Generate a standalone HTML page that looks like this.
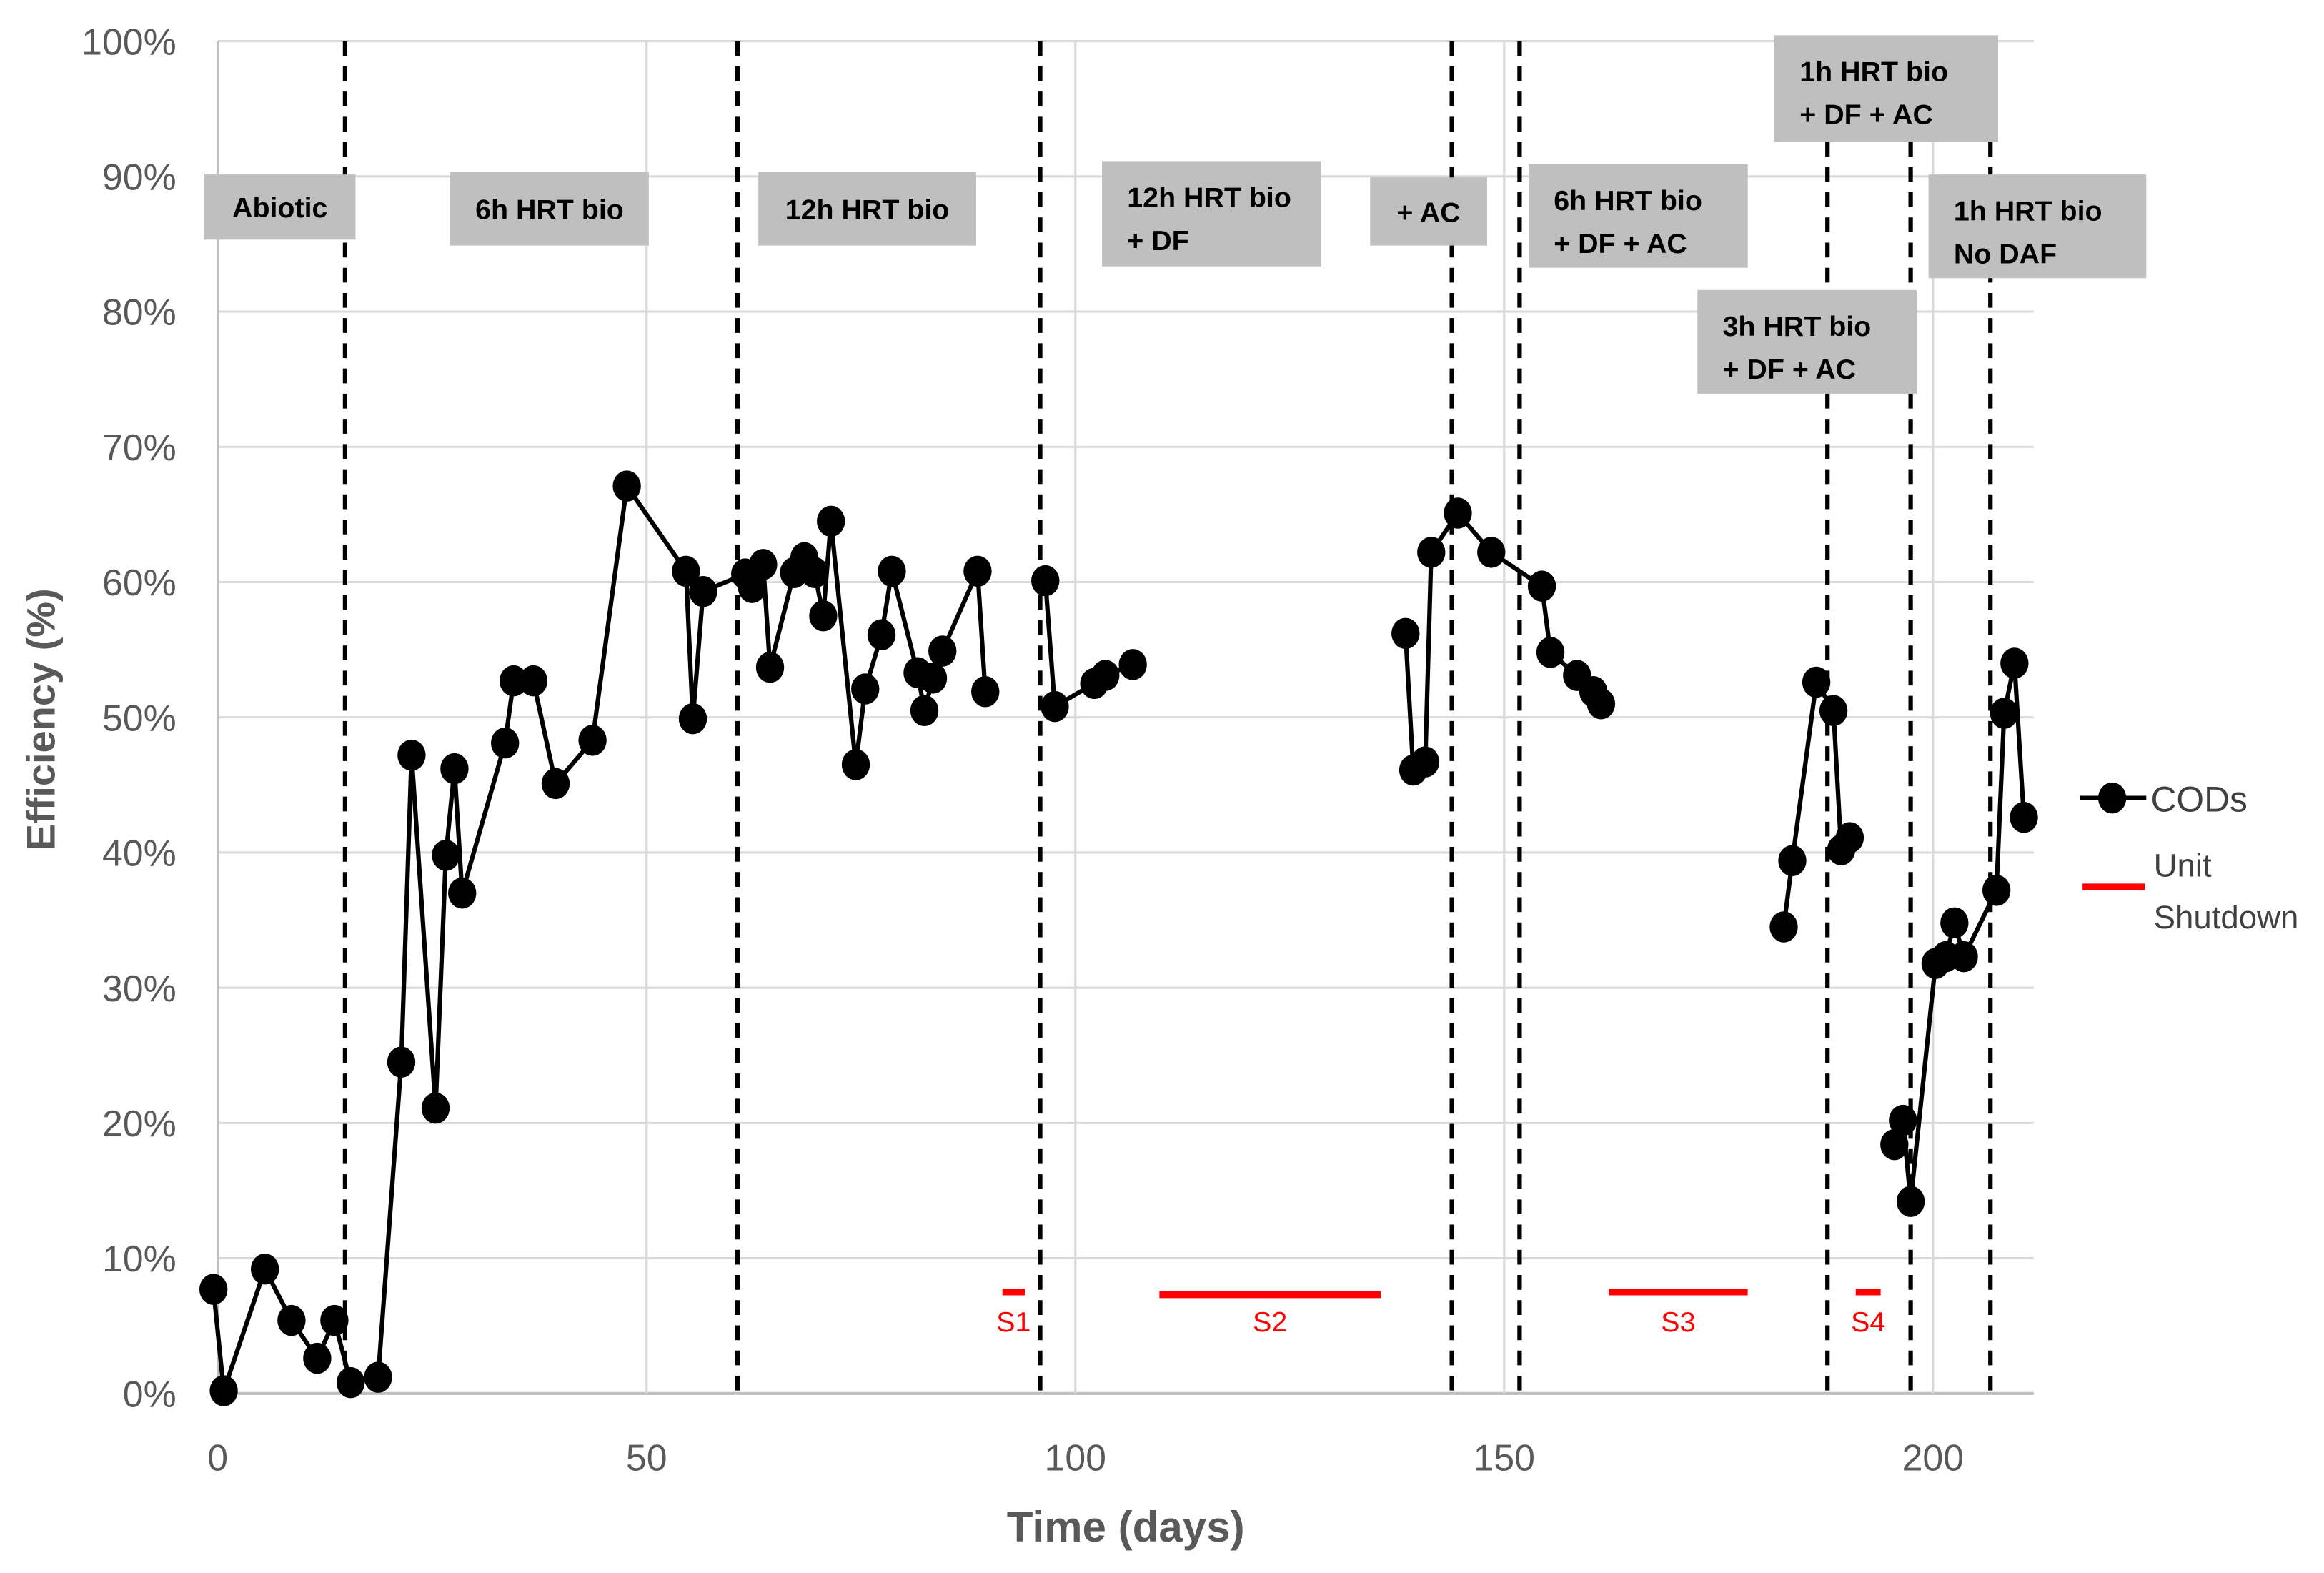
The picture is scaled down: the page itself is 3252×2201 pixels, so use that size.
<!DOCTYPE html>
<html><head><meta charset="utf-8"><style>
html,body{margin:0;padding:0;background:#fff;}
svg{display:block;}
text{font-family:"Liberation Sans",sans-serif;}
</style></head><body>
<svg id="chart" width="3252" height="2201" viewBox="1 -0.8 1569 1062" preserveAspectRatio="none" xmlns="http://www.w3.org/2000/svg"></svg>
<script>
const yTicks=[0,10,20,30,40,50,60,70,80,90,100];
const xTicks=[0,50,100,150,200];
const phaseDays=[14.85,60.6,95.9,143.9,151.8,187.7,197.4,206.7];
const segA_days=[-0.5,0.7,5.5,8.6,11.6,13.6,15.5,18.7,21.4,22.6,25.4,26.6,27.6,28.5,33.5,34.5,36.8,39.4,43.7,47.7,54.6,55.4,56.6,61.5,62.3,63.6,64.4,67.2,68.4,69.6,70.6,71.5,74.4,75.5,77.4,78.6,81.6,82.4,83.4,84.5,88.6,89.5];
const segA_vals=[7.7,0.2,9.2,5.4,2.6,5.4,0.8,1.2,24.5,47.2,21.1,39.8,46.2,37.0,48.1,52.7,52.7,45.1,48.3,67.1,60.8,49.9,59.3,60.6,59.6,61.3,53.7,60.7,61.8,60.7,57.5,64.5,46.5,52.1,56.1,60.8,53.3,50.5,52.9,54.9,60.8,51.9];
const segB_days=[96.5,97.6,102.2,103.5,106.7];
const segB_vals=[60.1,50.8,52.5,53.1,53.9];
const segC_days=[138.5,139.4,140.8,141.5,144.6,148.5,154.4,155.4,158.5,160.4,161.3];
const segC_vals=[56.2,46.1,46.7,62.2,65.1,62.2,59.7,54.8,53.1,51.9,51.0];
const segD_days=[182.6,183.6,186.4,188.4,189.3,190.3];
const segD_vals=[34.5,39.4,52.6,50.5,40.2,41.1];
const segE_days=[195.5,196.5,197.4,200.3,201.5,202.5,203.6,207.4,208.3,209.5,210.6];
const segE_vals=[18.4,20.2,14.2,31.8,32.3,34.8,32.3,37.2,50.3,54.0,42.6];
const shutLabels=["S1","S2","S3","S4"];
const shutStart=[91.5,109.8,162.2,191.0];
const shutEnd=[94.1,135.6,178.4,193.9];
const shutVal=[7.5,7.3,7.5,7.5];

const X=d=>148+d*5.79;
const Y=v=>940-v*9.13;
const svg=document.getElementById('chart');
const NS='http://www.w3.org/2000/svg';
function mk(tag,at,parent){const e=document.createElementNS(NS,tag);for(const k in at)e.setAttribute(k,at[k]);(parent||svg).appendChild(e);return e;}

yTicks.forEach(v=>{
  const l=mk('line',{x1:148,x2:1374,y1:Y(v),y2:Y(v),stroke:v===0?'#bfbfbf':'#d9d9d9','stroke-width':v===0?2:1.5});
  
  
  const t=mk('text',{x:120,y:Y(v)+9,'text-anchor':'end','font-size':25,fill:'#595959'});
  t.textContent=v+'%';
  
  
});
xTicks.forEach(d=>{
  const l=mk('line',{x1:X(d),x2:X(d),y1:27,y2:940,stroke:d===0?'#bfbfbf':'#d9d9d9','stroke-width':1.5});
  
  
  const t=mk('text',{x:X(d),y:992,'text-anchor':'middle','font-size':25,fill:'#595959'});
  t.textContent=d;
  
  
});

phaseDays.forEach((d,i)=>{
  const l=mk('line',{x1:X(d),x2:X(d),y1:27,y2:940,stroke:'#000','stroke-width':3,'stroke-dasharray':'10 7'});
  
  
});

shutLabels.forEach((s,i)=>{
  const l=mk('line',{x1:X(shutStart[i]),x2:X(shutEnd[i]),y1:Y(shutVal[i]),y2:Y(shutVal[i]),stroke:'#ff0000','stroke-width':4.5});
  
  
  const t=mk('text',{x:(X(shutStart[i])+X(shutEnd[i]))/2,y:898,'text-anchor':'middle','font-size':19,fill:'#ff0000'});
  t.textContent=s;
  
  
});

const segs=[[segA_days,segA_vals],[segB_days,segB_vals],[segC_days,segC_vals],[segD_days,segD_vals],[segE_days,segE_vals]];
segs.forEach((s,si)=>{
  const pts=s[0].map((d,i)=>X(d)+','+Y(s[1][i])).join(' ');
  const pl=mk('polyline',{points:pts,fill:'none',stroke:'#000','stroke-width':3,'stroke-linejoin':'round'});
  
  
  s[0].forEach((d,i)=>{
    const c=mk('ellipse',{cx:X(d),cy:Y(s[1][i]),rx:9.5,ry:10.5,fill:'#000'});
    
    
  });
});

const boxes=[
 [139,117,102,44,['Abiotic']],
 [305,115,134,50,['6h HRT bio']],
 [513,115,147,50,['12h HRT bio']],
 [745,108,148,71,['12h HRT bio','+ DF']],
 [926,119,79,46,['+ AC']],
 [1033,110,148,70,['6h HRT bio','+ DF + AC']],
 [1199,23,151,72,['1h HRT bio','+ DF + AC']],
 [1303,117,147,70,['1h HRT bio','No DAF']],
 [1147,195,148,70,['3h HRT bio','+ DF + AC']]
];
boxes.forEach((b,i)=>{
  const g=mk('g',{});
  
  
  mk('rect',{x:b[0],y:b[1],width:b[2],height:b[3],fill:'#bfbfbf'},g);
  b[4].forEach((line,j)=>{
    const lx=b[4].length===1?b[0]+b[2]/2:b[0]+17;
    const t=mk('text',{x:lx,y:(b[4].length===1?b[1]+b[3]/2+7:b[1]+31+j*29),'text-anchor':b[4].length===1?'middle':'start','font-size':19,'font-weight':'bold',fill:'#000'},g);
    t.textContent=line;
  });
});

const xt=mk('text',{x:761,y:1040,'text-anchor':'middle','font-size':29,'font-weight':'bold',fill:'#595959'});
xt.textContent='Time (days)';


const yt=mk('text',{x:0,y:0,'text-anchor':'middle','font-size':27,'font-weight':'bold',fill:'#595959',transform:'translate(38,485) rotate(-90)'});
yt.textContent='Efficiency (%)';



const lg=mk('g',{});


const le1=mk('g',{},lg);


mk('line',{x1:1405,x2:1450,y1:538,y2:538,stroke:'#000','stroke-width':3},le1);
mk('ellipse',{cx:1427,cy:538,rx:9.5,ry:10.5,fill:'#000'},le1);
const lt1=mk('text',{x:1453,y:547,'font-size':24,fill:'#404040'},le1);lt1.textContent='CODs';
const le2=mk('g',{},lg);


mk('line',{x1:1407,x2:1449,y1:598,y2:598,stroke:'#ff0000','stroke-width':4.5},le2);
const lt2=mk('text',{x:1455,y:591,'font-size':22,fill:'#404040'},le2);lt2.textContent='Unit';
const lt3=mk('text',{x:1455,y:626,'font-size':22,fill:'#404040'},le2);lt3.textContent='Shutdown';
</script>
</body></html>
